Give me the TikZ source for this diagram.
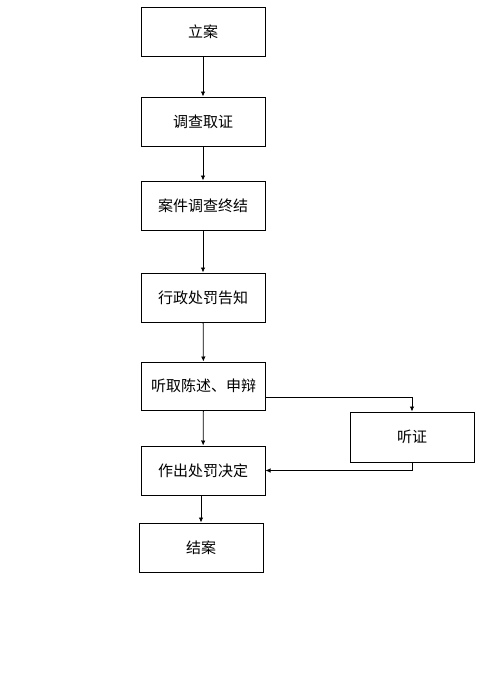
\documentclass[tikz,border=0pt]{standalone}
\usepackage{fontspec}
\newfontfamily\cjk{Noto Sans CJK SC}
\usepackage{tikz}
\usetikzlibrary{calc,arrows.meta}

\begin{document}
\begin{tikzpicture}[x=1pt,y=-1pt,
    box/.style={draw,line width=1pt,minimum width=124pt,minimum height=49pt,inner sep=0pt,font=\cjk\fontsize{15}{17}\selectfont},
    link/.style={line width=0.8pt,-{Latex[length=5pt,width=4.5pt]}}]
        % 页面 484 x 673
        \useasboundingbox (0,0) rectangle (484,673);

        \node[box] (lian) at (203,31.5) {立案};
        \node[box] (diaocha) at (203,121.5) {调查取证};
        \node[box] (zhongjie) at (203,205.5) {案件调查终结};
        \node[box] (gaozhi) at (203,297.5) {行政处罚告知};
        \node[box,minimum height=48pt] (tingqu) at (203.5,386) {听取陈述、申辩};
        \node[box] (jueding) at (203,470.5) {作出处罚决定};
        \node[box] (jiean) at (201,547.5) {结案};
        \node[box,minimum height=50pt] (tingzheng) at (412,437) {听证};

        \draw[link] (lian) -- (diaocha);
        \draw[link] (diaocha) -- (zhongjie);
        \draw[link] (zhongjie) -- (gaozhi);
        \draw[link] (gaozhi) -- (tingqu);
        \draw[link] (tingqu) -- (jueding);
        \draw[link] (jueding.south -| jiean) -- (jiean);

        % 听证分支
        \draw[link] ([yshift=-11pt]tingqu.east) -| (tingzheng.north);
        \draw[link] (tingzheng.south) |- (jueding.east);
    \end{tikzpicture}
\end{document}
